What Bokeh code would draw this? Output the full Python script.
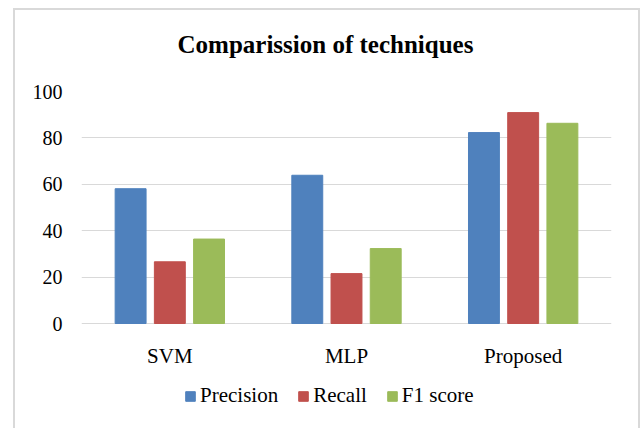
from bokeh.plotting import figure
from bokeh.models import FactorRange, ColumnDataSource, Legend, LegendItem, Title
from bokeh.transform import dodge
from bokeh.embed import file_html
from bokeh.resources import INLINE

categories = ["SVM", "MLP", "Proposed"]
precision = [58.1, 63.9, 82.3]
recall = [26.6, 21.5, 90.9]
f1_score = [36.4, 32.3, 86.3]
series_names = ["Precision", "Recall", "F1 score"]
y_ticks = [0, 20, 40, 60, 80, 100]

colors = ["#4F81BD", "#C0504D", "#9BBB59"]
FONT = "Liberation Serif"

# layout (pixels): plot height of the 0..100 band and total frame height
band_px = 232.0
frame_px = 337.0
y_lo = -100.0 * (frame_px - band_px) / band_px

src = ColumnDataSource(dict(cat=categories, precision=precision, recall=recall, f1=f1_score))

p = figure(x_range=FactorRange(*categories, range_padding=0), y_range=(y_lo, 100),
           width=623, height=418, output_backend="svg", toolbar_location=None,
           min_border_left=66, min_border_right=27, min_border_top=81, min_border_bottom=0,
           margin=(10, 0, 0, 15), title=None,
           styles={"box-shadow": "0 0 0 2px #d9d9d9"})
p.outline_line_color = None
p.background_fill_color = "white"
p.border_fill_color = "white"

# spacer (closest to the frame), then the real title
p.add_layout(Title(text=" ", text_font_size="1px", standoff=26), "above")
p.add_layout(Title(text="Comparission of techniques", align="left", offset=96,
                   text_font=FONT, text_font_size="25px", text_font_style="bold",
                   text_color="#000000", standoff=10), "above")

renderers = []
for i, (col, c) in enumerate(zip(["precision", "recall", "f1"], colors)):
    r = p.vbar(x=dodge("cat", (i - 1) * 0.222, range=p.x_range), top=col, width=0.175,
               source=src, fill_color=c, line_color=c, line_width=1)
    renderers.append(r)

# category labels under the zero line
p.text(x="cat", y=0, text="cat", source=src, y_offset=32, text_align="center",
       text_baseline="alphabetic", text_font="Liberation Serif", text_font_size="21px",
       text_color="#000000")

p.xaxis.visible = False
p.xgrid.grid_line_color = None

legend = Legend(items=[LegendItem(label=n, renderers=[r]) for n, r in zip(series_names, renderers)],
                orientation="horizontal", location=(103, 20), padding=0, margin=0,
                border_line_color=None, background_fill_alpha=0,
                glyph_width=12, glyph_height=12, label_standoff=4, spacing=19,
                label_text_font=FONT, label_text_font_size="21px", label_text_color="#000000")
p.add_layout(legend, "center")

p.yaxis.ticker = y_ticks
p.yaxis.axis_line_color = None
p.yaxis.major_tick_line_color = None
p.yaxis.minor_tick_line_color = None
p.yaxis.major_tick_out = 0
p.yaxis.major_tick_in = 0
p.yaxis.major_label_text_font = FONT
p.yaxis.major_label_text_font_size = "20px"
p.yaxis.major_label_text_color = "#000000"
p.yaxis.major_label_standoff = 19
p.ygrid.grid_line_color = "#d9d9d9"
p.ygrid.grid_line_width = 1
p.ygrid.ticker = y_ticks

open("out.html", "w").write(file_html(p, INLINE))
